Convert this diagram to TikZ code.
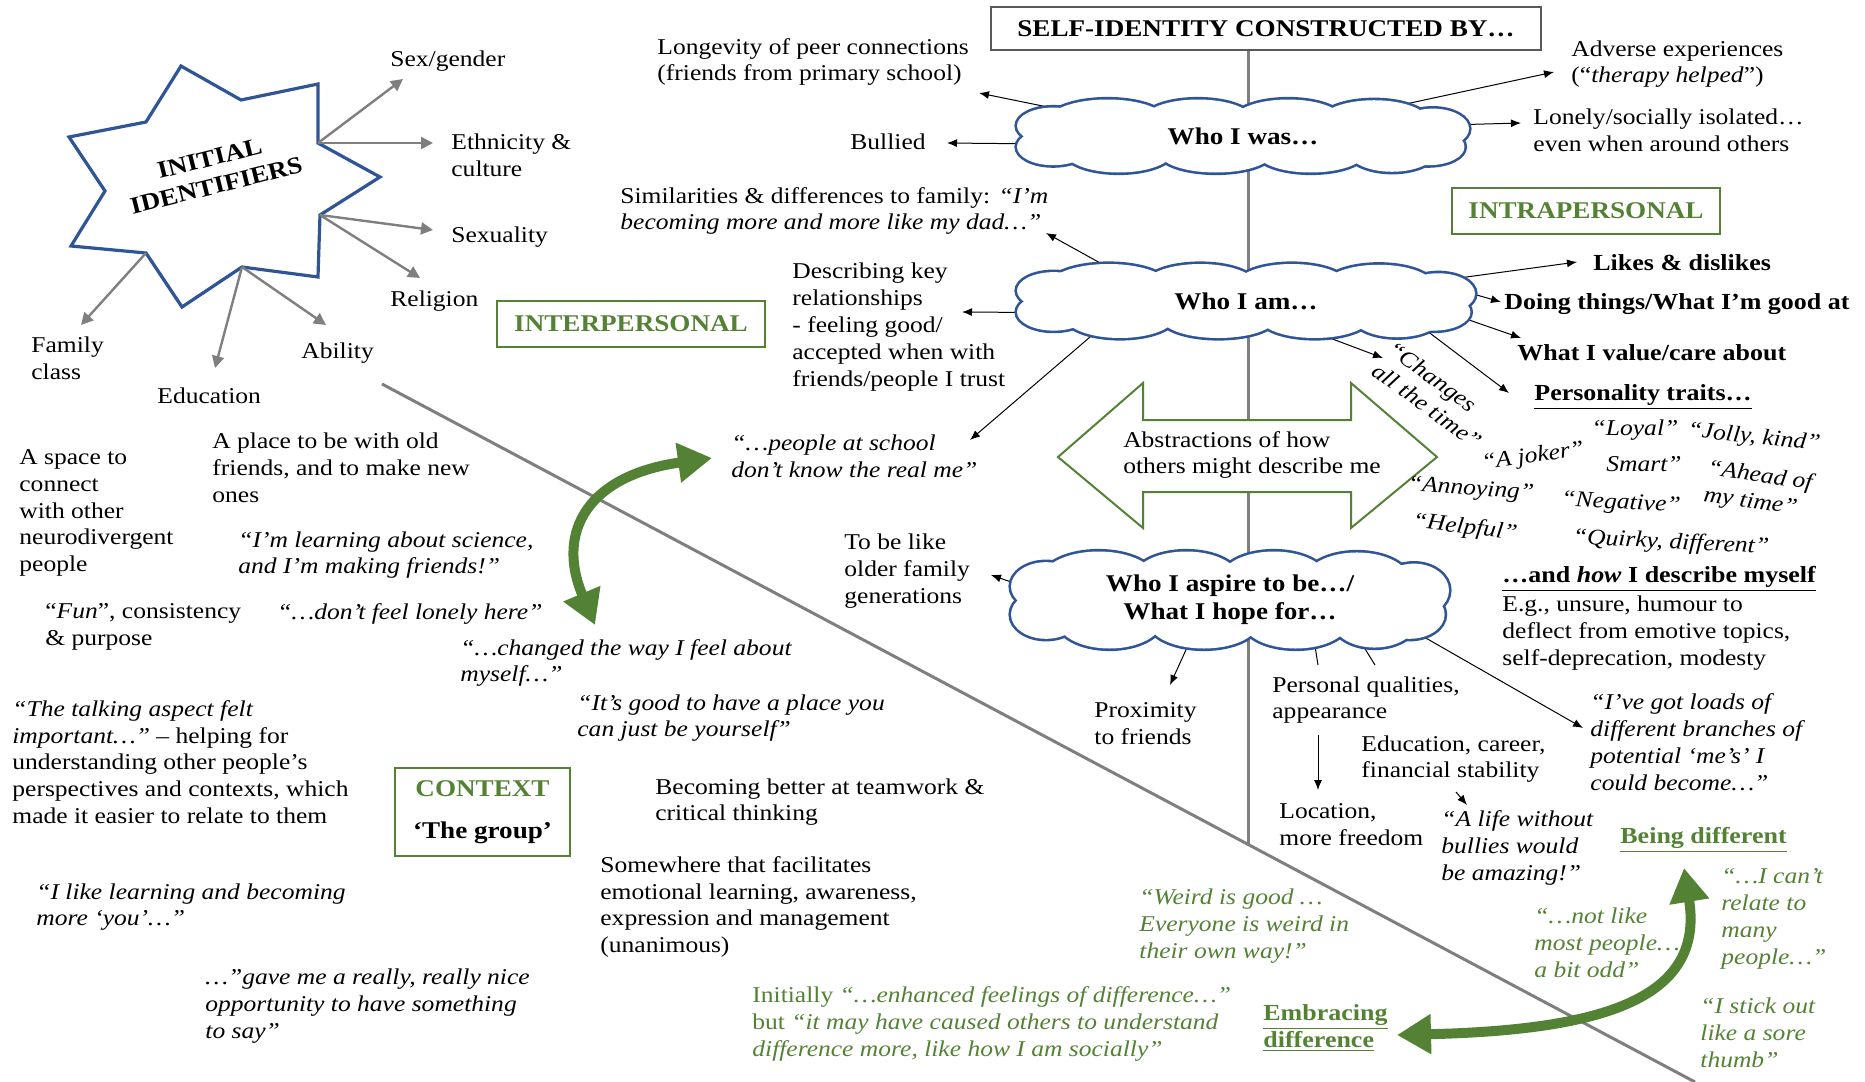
\documentclass[tikz,border=0pt]{standalone}
\usepackage{fontspec}
\setmainfont[FakeStretch=1.13]{Liberation Serif}
\usetikzlibrary{arrows.meta, shapes.geometric, calc, positioning}
\pgfdeclarelayer{behind}
\pgfsetlayers{behind,main}
\definecolor{cblue}{HTML}{2F5597}
\definecolor{grn}{HTML}{548235}
\definecolor{lgray}{HTML}{7F7F7F}

\begin{document}
\begin{tikzpicture}[x=0.5pt, y=-0.5pt, >=Latex,
  txt/.style={font=\fontsize{11.3}{13.4}\selectfont, align=left, inner sep=0pt, anchor=west},
  qt/.style={txt, font=\fontsize{11.3}{13.4}\selectfont\itshape},
  gq/.style={qt, text=grn},
  bftxt/.style={txt, font=\fontsize{11.5}{13.4}\selectfont\bfseries},
  trait/.style={qt, anchor=center},
  cloudnode/.style={ellipse, inner sep=0pt, align=center,
    font=\fontsize{12}{14}\selectfont\bfseries},
  greenbox/.style={draw=grn, line width=1pt, inner sep=0pt, text=grn,
    font=\fontsize{12}{14}\selectfont\bfseries},
  arr/.style={-{Latex[length=5pt,width=4pt]}, line width=0.5pt},
  grayarr/.style={-{Triangle[length=6pt,width=6pt]}, draw=lgray, line width=1.2pt},
  bigarr/.style={{Triangle[length=17pt,width=19pt]}-{Triangle[length=17pt,width=19pt]},
    draw=grn, line width=5pt},
  guide/.style={draw=lgray, line width=1.5pt}
]
\useasboundingbox (0,0) rectangle (1865,1082);

% title and the two guide lines
\node[draw=gray!70!black, line width=0.8pt, minimum width=275pt, minimum height=21.5pt,
  inner sep=0pt, font=\fontsize{12}{14}\selectfont\bfseries] (title) at (1266,28.5)
  {SELF-IDENTITY CONSTRUCTED BY…};
\coordinate (diagA) at (382,384);
\coordinate (diagB) at (1695,1082);
\coordinate (axisEnd) at (1248,844);
\draw[guide] (title.south -| axisEnd) -- (axisEnd);
\draw[guide] (diagA) -- (diagB);

% star of initial identifiers
\foreach \x/\y [count=\i] in {181/66, 241/100, 318/84, 318/143, 380/177, 320/215, 318/277,
  242/267, 182/307, 146/253, 71/246, 105/191, 69/137, 146/122}
  \coordinate (s\i) at (\x,\y);
\draw[cblue, line width=1.6pt, fill=white] (s1) -- (s2) -- (s3) -- (s4) -- (s5) -- (s6) -- (s7)
  -- (s8) -- (s9) -- (s10) -- (s11) -- (s12) -- (s13) -- (s14) -- cycle;
\node[rotate=14, align=center, inner sep=0pt, font=\fontsize{12}{14}\selectfont\bfseries]
  (initial) at (213,172) {INITIAL\\IDENTIFIERS};

\node[txt] (sexg) at (390,61) {Sex/gender};
\node[txt] (ethn) at (451,155) {Ethnicity \&\\culture};
\node[txt] (sexu) at (451,237) {Sexuality};
\node[txt] (relig) at (390,301) {Religion};
\node[txt] (famc) at (31,358) {Family\\class};
\node[txt] (educ) at (157,396) {Education};
\node[txt] (abil) at (301,353) {Ability};

\coordinate (tSex) at (403,79);
\coordinate (tEth) at (433,143);
\coordinate (tSexu) at (433,230);
\coordinate (tRel) at (420,278);
\coordinate (tFam) at (81,325);
\coordinate (tEdu) at (215,368);
\coordinate (tAbil) at (326,325);
\draw[grayarr] (s4) -- (tSex);
\draw[grayarr] (s4) -- (tEth);
\draw[grayarr] (s6) -- (tSexu);
\draw[grayarr] (s6) -- (tRel);
\draw[grayarr] (s10) -- (tFam);
\draw[grayarr] (s8) -- (tEdu);
\draw[grayarr] (s8) -- (tAbil);

% abstraction double arrow
\draw[grn, line width=1pt, fill=white] (1058,457) -- (1143,383) -- (1143,420) -- (1351,420)
  -- (1351,383) -- (1437,457) -- (1351,528) -- (1351,492) -- (1143,492) -- (1143,528) -- cycle;
\node[txt, anchor=center] (abstr) at (1252,455) {Abstractions of how\\others might describe me};

% the three clouds: puffs stroked, then filled to leave the outer rim
\coordinate (wasC) at (1243,136);
\coordinate (amC) at (1246,301);
\coordinate (aspC) at (1230,600);
\foreach \pass in {1,2}
  \foreach \c/\w/\h in {wasC/226/36.5, amC/229/37, aspC/219/48.5}
    \foreach \px/\py/\rx/\ry in {0/0/0.82/0.6,
      -0.6/-0.42/0.26/0.58, -0.2/-0.45/0.24/0.55, 0.2/-0.45/0.24/0.55, 0.58/-0.4/0.24/0.58,
      -0.55/0.42/0.24/0.58, -0.12/0.46/0.25/0.54, 0.3/0.45/0.24/0.55, 0.66/0.38/0.2/0.6,
      -0.84/-0.28/0.16/0.5, -0.84/0.3/0.16/0.5, 0.84/-0.2/0.16/0.55, 0.82/0.3/0.16/0.5}
      {\ifnum\pass=1
         \draw[cblue, line width=2.6pt] ($(\c)+(\px*\w,\py*\h)$)
           ellipse [x radius=\rx*\w*0.5pt, y radius=\ry*\h*0.5pt];
       \else
         \fill[white] ($(\c)+(\px*\w,\py*\h)$)
           ellipse [x radius=\rx*\w*0.5pt, y radius=\ry*\h*0.5pt];
       \fi}
\node[cloudnode, minimum width=226pt, minimum height=36.5pt] (was) at (wasC) {Who I was…};
\node[cloudnode, minimum width=229pt, minimum height=37pt] (am) at (amC) {Who I am…};
\node[cloudnode, minimum width=219pt, minimum height=48.5pt] (aspire) at (aspC)
  {Who I aspire to be…/\\What I hope for…};

% section boxes
\node[greenbox, minimum width=134pt, minimum height=23pt] (inter) at (631,324) {INTERPERSONAL};
\node[greenbox, minimum width=134pt, minimum height=23pt] (intra) at (1586,211) {INTRAPERSONAL};
\node[greenbox, text=black, align=center, minimum width=87.5pt, minimum height=44pt]
  (context) at (482.5,812) {\textcolor{grn}{CONTEXT}\\[7pt]‘The group’};

% who I was
\node[txt] (longev) at (657,62) {Longevity of peer connections\\(friends from primary school)};
\node[txt] (bullied) at (850,142) {Bullied};
\node[txt] (advers) at (1571,64) {Adverse experiences\\(“\textit{therapy helped}”)};
\node[txt] (lonely) at (1533,130) {Lonely/socially isolated…\\even when around others};
\coordinate (tLong) at (979,93);
\coordinate (tBull) at (947,143);
\coordinate (tAdv) at (1554,72);
\coordinate (tLon) at (1521,123);

% who I am
\node[txt] (simil) at (620,211) {Similarities \& differences to family: \textit{“I’m}\\\textit{becoming more and more like my dad…”}};
\node[txt] (descr) at (792,327) {Describing key\\relationships\\- feeling good/\\accepted when with\\friends/people I trust};
\node[qt] (school) at (731,456) {“…people at school\\don’t know the real me”};
\node[bftxt] (likes) at (1593,263) {Likes \& dislikes};
\node[bftxt] (doing) at (1504,304) {Doing things/What I’m good at};
\node[bftxt] (value) at (1517,353) {What I value/care about};
\node[bftxt] (traits) at (1534,397) {\underline{Personality traits…}};
\node[qt, anchor=center, rotate=-36] (changes) at (1435,395) {“Changes\\all the time”};
\coordinate (tSim) at (1046,233);
\coordinate (tDesc) at (962,312);
\coordinate (tSch) at (970,440);
\coordinate (tLike) at (1577,262);
\coordinate (tDo) at (1501,302);
\coordinate (tVal) at (1521,338);
\coordinate (tPers) at (1509,393);
\coordinate (tChg) at (1383,358);

% personality traits
\node[trait] (loyal) at (1635,430) {“Loyal”};
\node[trait, rotate=-6] (jolly) at (1754,438) {“Jolly, kind”};
\node[trait, rotate=8] (joker) at (1533,457) {“A joker”};
\node[trait] (smart) at (1644,464) {Smart”};
\node[trait, rotate=-8] (ahead) at (1758,490) {“Ahead of\\my time”};
\node[trait, rotate=-4] (annoy) at (1471,490) {“Annoying”};
\node[trait, rotate=-3] (negat) at (1621,504) {“Negative”};
\node[trait, rotate=-7] (helpf) at (1465,528) {“Helpful”};
\node[trait, rotate=-3] (quirky) at (1671,543) {“Quirky, different”};
\node[bftxt] (howi) at (1502,579) {\underline{…and \textit{how} I describe myself}};
\node[txt] (eg) at (1502,633) {E.g., unsure, humour to\\deflect from emotive topics,\\self-deprecation, modesty};

% who I aspire to be
\node[txt] (older) at (844,571) {To be like\\older family\\generations};
\node[txt] (proxim) at (1094,724) {Proximity\\to friends};
\node[txt] (quals) at (1272,700) {Personal qualities,\\appearance};
\node[txt] (career) at (1361,759) {Education, career,\\financial stability};
\node[txt] (locat) at (1279,825) {Location,\\more freedom};
\node[qt] (bullies) at (1441,848) {“A life without\\bullies would\\be amazing!”};
\node[qt] (branches) at (1590,742) {“I’ve got loads of\\different branches of\\potential ‘me’s’ I\\could become…”};
\coordinate (tOld) at (991,575);
\coordinate (tProx) at (1170,685);
\coordinate (tLoads) at (1583,728);
\coordinate (stubA) at (1318,665);
\coordinate (stubB) at (1375,665);
\coordinate (qDown) at (1318,735);
\coordinate (tLoc) at (1318,790);
\coordinate (cDown) at (1456,792);
\coordinate (tLife) at (1467,805);

% cloud connectors, kept under the cloud fill
\begin{pgfonlayer}{behind}
\draw[arr] (was.172) -- (tLong);
\draw[arr] (was.182) -- (tBull);
\draw[arr] (was.11) -- (tAdv);
\draw[arr] (was.3) -- (tLon);
\draw[arr] (am.167) -- (tSim);
\draw[arr] (am.183) -- (tDesc);
\draw[arr] (am.191) -- (tSch);
\draw[arr] (am.6) -- (tLike);
\draw[arr] (am.2) -- (tDo);
\draw[arr] (am.-4) -- (tVal);
\draw[arr] (am.-8) -- (tPers);
\draw[arr] (am.-24) -- (tChg);
\draw[arr] (aspire.176) -- (tOld);
\draw[arr] (aspire.228) -- (tProx);
\draw[arr] (aspire.-9) -- (tLoads);
\draw[line width=0.5pt] (aspire.-28) -- (stubA);
\draw[line width=0.5pt] (aspire.-17) -- (stubB);
\end{pgfonlayer}
\draw[arr] (qDown) -- (tLoc);
\draw[arr] (cDown) -- (tLife);

% context: the group
\node[txt] (space) at (19,513) {A space to\\connect\\with other\\neurodivergent\\people};
\node[txt] (place) at (212,468) {A place to be with old\\friends, and to make new\\ones};
\node[qt] (science) at (238,555) {“I’m learning about science,\\and I’m making friends!”};
\node[txt] (fun) at (45,627) {“\textit{Fun}”, consistency\\\& purpose};
\node[qt] (lonelyhere) at (277,614) {“…don’t feel lonely here”};
\node[qt] (changed) at (460,663) {“…changed the way I feel about\\myself…”};
\node[qt] (yourself) at (577,718) {“It’s good to have a place you\\can just be yourself”};
\node[txt] (talking) at (12,762) {\textit{“The talking aspect felt}\\\textit{important…”} – helping for\\understanding other people’s\\perspectives and contexts, which\\made it easier to relate to them};
\node[txt] (teamwork) at (655,802) {Becoming better at teamwork \&\\critical thinking};
\node[txt] (emotional) at (600,907) {Somewhere that facilitates\\emotional learning, awareness,\\expression and management\\(unanimous)};
\node[qt] (likelearn) at (36,907) {“I like learning and becoming\\more ‘you’…”};
\node[qt] (nice) at (205,1006) {…”gave me a really, really nice\\opportunity to have something\\to say”};

% being different
\node[gq] (weird) at (1139,926) {“Weird is good …\\Everyone is weird in\\their own way!”};
\node[txt, text=grn] (initially) at (752,1024) {Initially \textit{“…enhanced feelings of difference…”}\\but \textit{“it may have caused others to understand}\\\textit{difference more, like how I am socially”}};
\node[bftxt, text=grn] (embrace) at (1263,1028) {\underline{Embracing}\\\underline{difference}};
\node[bftxt, text=grn] (beingdiff) at (1620,840) {\underline{Being different}};
\node[gq] (notlike) at (1534,943) {“…not like\\most people…\\a bit odd”};
\node[gq] (cant) at (1721,919) {“…I can’t\\relate to\\many\\people…”};
\node[gq] (stick) at (1700,1033) {“I stick out\\like a sore\\thumb”};

% green curved arrows
\coordinate (gUp1) at (595,625);
\coordinate (gUp2) at (712,458);
\coordinate (gLo1) at (1397,1035);
\coordinate (gLo2) at (1684,868);
\draw[bigarr] (gUp1) .. controls (555,530) and (590,475) .. (gUp2);
\draw[bigarr] (gLo1) .. controls (1600,1030) and (1705,1000) .. (gLo2);
\end{tikzpicture}
\end{document}
